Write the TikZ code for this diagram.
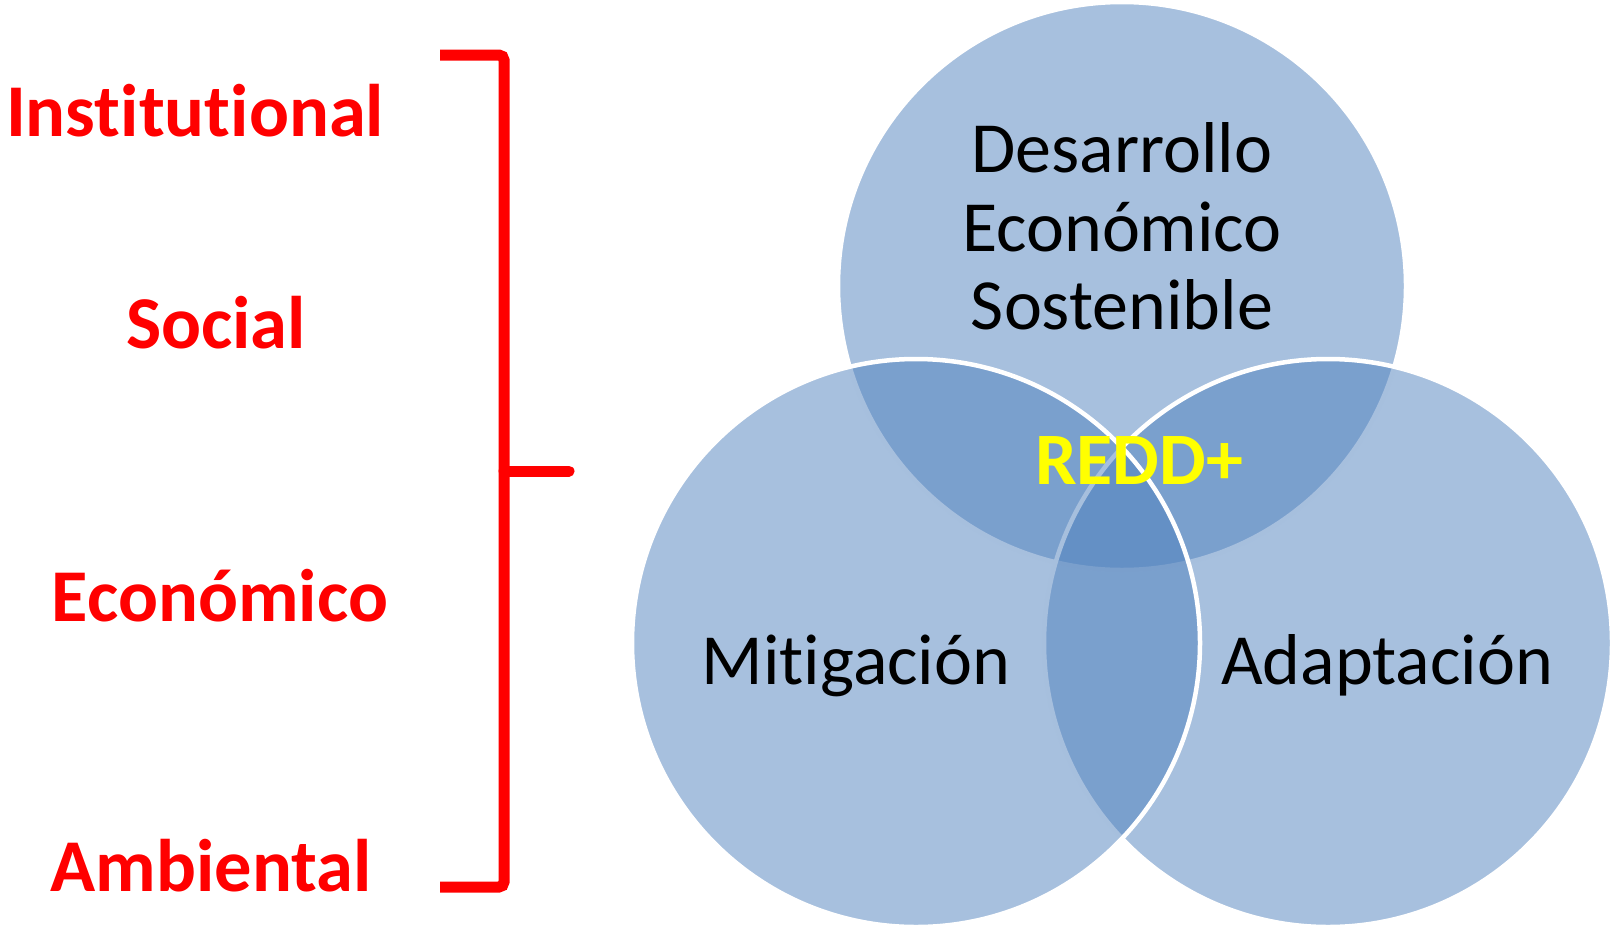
\documentclass[tikz,border=0pt]{standalone}
\usepackage{fontspec}
\setmainfont{Carlito}[Ligatures=CommonOff]
\definecolor{officeblue}{HTML}{4F81BD}
\definecolor{brred}{HTML}{FF0000}
\definecolor{reddyellow}{HTML}{FFFF00}
\tikzset{
  venn/.style={circle, minimum size=568pt, inner sep=0pt, draw=white, line width=4.5pt,
    fill=officeblue, fill opacity=0.5, draw opacity=1},
  dimlabel/.style={text=brred, font=\bfseries\fontsize{74.5}{80}\selectfont, anchor=base, inner sep=0pt},
  circlabel/.style={text=black, font=\fontsize{72}{78.5}\selectfont, anchor=base, inner sep=0pt, align=center},
  bracketline/.style={draw=brred, line width=11pt},
}
\begin{document}
\begin{tikzpicture}[x=1pt,y=-1pt]
\useasboundingbox (0,0) rectangle (1614,927);
% circles: top, right, left
\node[venn] (top) at (1122,286) {};
\node[venn] (right) at (1328,643) {};
\node[venn] (left) at (916,643) {};
% circle labels
\node[circlabel] (des) at (1122,172) {Desarrollo};
\node[circlabel] (eco) at (1122,251) {Económico};
\node[circlabel] (sos) at (1122,329) {Sostenible};
\node[circlabel] (mit) at (856,684) {Mitigación};
\node[circlabel] (ada) at (1387,684) {Adaptación};
\node[text=reddyellow, font=\bfseries\fontsize{74}{78}\selectfont, anchor=base, inner sep=0pt] (redd) at (1139,484) {REDD+};
% dimension labels
\node[dimlabel] (inst) at (195,136) {Institutional};
\node[dimlabel] (soc) at (216,348) {Social};
\node[dimlabel] (econ) at (220,621) {Económico};
\node[dimlabel] (amb) at (211,891) {Ambiental};
% bracket
\coordinate (btl) at (440,55);
\coordinate (btr) at (504,55);
\coordinate (bbr) at (504,887);
\coordinate (bbl) at (440,887);
\coordinate (bmid) at (504,471);
\coordinate (btip) at (569,471);
\draw[bracketline, rounded corners=5pt] (btl) -- (btr) -- (bbr) -- (bbl);
\draw[bracketline, line cap=round] (bmid) -- (btip);
\end{tikzpicture}
\end{document}
